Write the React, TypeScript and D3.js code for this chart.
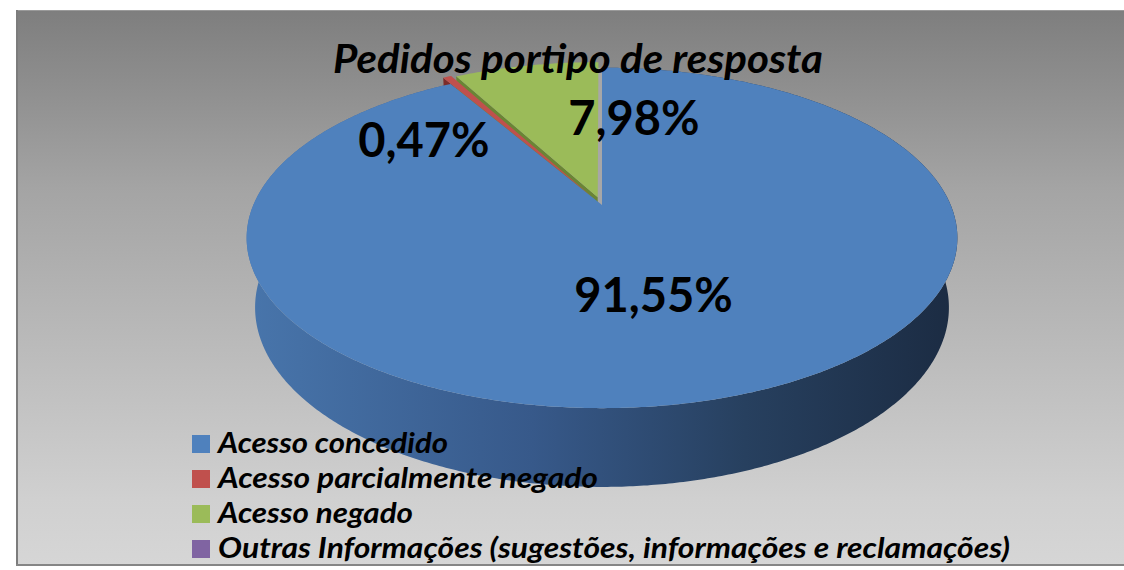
import React from 'react';
import * as d3 from 'd3';

// chart data
const title = 'Pedidos portipo de resposta';
const categories = [
  'Acesso concedido',
  'Acesso parcialmente negado',
  'Acesso negado',
  'Outras Informações (sugestões, informações e reclamações)'
];
const values = [91.55, 0.47, 7.98, 0];
const valueLabels = ['91,55%', '0,47%', '7,98%', ''];
const topColors = ['#4f81bd', '#c0504d', '#9bbb59', '#8064a2'];
const wallColors = ['#a7a7a7', '#7d2c2a', '#6a8535', '#5b4776'];
const explode = [0, 0.06, 0.05, 0];
// pixel nudges for the data labels (Excel "best fit" placement)
const labelNudge = [[1, 4], [-90, 9], [75, -7], [0, 0]];
// legend text widths as measured on the reference
const legendWidths = [230, 380, 195, 792];

const W = 1124;
const H = 570;

// simple perspective camera for the 3D pie
const cx = 602;
const cy = 205;
const sinE = 0.47;
const cosE = Math.sqrt(1 - sinE * sinE);
const D = 4.566;
const K = 1592;
const depthH = 0.228;

const project = (x: number, y: number, z: number): [number, number] => {
  const yv = y * cosE + z * sinE;
  const dep = D + z * cosE - y * sinE;
  return [cx + (K * x) / dep, cy - (K * yv) / dep];
};

const rim = (a0: number, a1: number, y: number, ex: number, ez: number) => {
  const n = Math.max(2, Math.ceil(Math.abs(a1 - a0) / (Math.PI / 360)));
  const pts: [number, number][] = [];
  for (let i = 0; i <= n; i++) {
    const a = a0 + ((a1 - a0) * i) / n;
    pts.push(project(Math.sin(a) + ex, y, Math.cos(a) + ez));
  }
  return pts;
};

const line = d3.line<[number, number]>();

const App: React.FC = () => {
  const arcs = d3.pie<number>().sort(null).value(d => d)(values);

  const slices = arcs.map((a, i) => {
    const mid = (a.startAngle + a.endAngle) / 2;
    const ex = Math.sin(mid) * explode[i];
    const ez = Math.cos(mid) * explode[i];
    return { ...a, i, mid, ex, ez };
  }).filter(s => s.value > 0);

  // legend rows
  const legendY = d3.scalePoint<string>()
    .domain(categories)
    .range([444, 549]);

  const grad = d3.scaleLinear<string>()
    .domain([0, 0.4, 0.7, 1])
    .range(['#4875ab', '#37598a', '#27405f', '#1b2b42']);

  const font = "Lato, 'Open Sans', sans-serif";

  return (
    <div style={{ position: 'absolute', left: 0, top: 0 }}>
      <svg width={W} height={H} style={{ display: 'block' }}>
        <defs>
          <linearGradient id="bg" x1="0" y1="0" x2="0" y2="1">
            <stop offset="0" stopColor="#7e7e7e" />
            <stop offset="0.32" stopColor="#a4a4a4" />
            <stop offset="0.88" stopColor="#d0d0d0" />
            <stop offset="1" stopColor="#d6d6d6" />
          </linearGradient>
          <linearGradient id="side" gradientUnits="userSpaceOnUse" x1="248" y1="0" x2="958" y2="0">
            {[0, 0.4, 0.7, 1].map(t => (
              <stop key={t} offset={t} stopColor={grad(t)} />
            ))}
          </linearGradient>
        </defs>
        <rect x={0} y={0} width={W} height={H} fill="#ffffff" />
        <rect x={16} y={10} width={W - 16} height={556} fill="url(#bg)" />
        <line x1={16} y1={10.5} x2={W} y2={10.5} stroke="#9a9a9a" strokeWidth={1} />
        <line x1={17} y1={10} x2={17} y2={566} stroke="#7c7c7c" strokeWidth={2} />
        <line x1={16} y1={565} x2={W} y2={565} stroke="#858585" strokeWidth={2} />

        {/* outer side of the pie (only the un-exploded slice shows it) */}
        {slices.filter(s => explode[s.i] === 0).map(s => {
          const top = rim(s.startAngle, s.endAngle, 0, s.ex, s.ez);
          const bot = rim(s.startAngle, s.endAngle, -depthH, s.ex, s.ez).reverse();
          return <path key={'side' + s.i} d={line([...top, ...bot]) + 'Z'} fill="url(#side)" />;
        })}

        {/* radial walls */}
        {slices.map(s => {
          const c0 = project(s.ex, 0, s.ez);
          const r0 = project(Math.sin(s.startAngle) + s.ex, 0, Math.cos(s.startAngle) + s.ez);
          let pts: [number, number][];
          if (explode[s.i] === 0) {
            // wall seen almost edge-on: give it a little thickness
            pts = [c0, r0, [r0[0] - 6, r0[1]], [c0[0] - 6, c0[1] - 2], [c0[0], c0[1] + 3]];
          } else {
            const c1 = project(s.ex, -depthH, s.ez);
            const r1 = project(Math.sin(s.startAngle) + s.ex, -depthH, Math.cos(s.startAngle) + s.ez);
            pts = [c0, r0, r1, c1];
          }
          return <path key={'wall' + s.i} d={line(pts) + 'Z'} fill={wallColors[s.i]} />;
        })}

        {/* top faces */}
        {slices.map(s => {
          const pts = [project(s.ex, 0, s.ez), ...rim(s.startAngle, s.endAngle, 0, s.ex, s.ez)];
          return <path key={'top' + s.i} d={line(pts) + 'Z'} fill={topColors[s.i]} />;
        })}

        {/* data labels */}
        {slices.map(s => {
          const r = 0.5;
          const [lx, ly] = project(Math.sin(s.mid) * r + s.ex, 0, Math.cos(s.mid) * r + s.ez);
          return (
            <text
              key={'lab' + s.i}
              x={lx + labelNudge[s.i][0]}
              y={ly + 16 + labelNudge[s.i][1]}
              textAnchor="middle"
              fontFamily={font}
              fontWeight="bold"
              fontSize={47}
              fill="#000"
            >
              {valueLabels[s.i]}
            </text>
          );
        })}

        {/* title */}
        <text
          x={578}
          y={73}
          textAnchor="middle"
          fontFamily={font}
          fontWeight="bold"
          fontStyle="italic"
          fontSize={40}
          textLength={490}
          lengthAdjust="spacingAndGlyphs"
          fill="#000"
        >
          {title}
        </text>

        {/* legend */}
        {categories.map((c, i) => {
          const y = legendY(c) as number;
          return (
            <g key={c}>
              <rect x={192} y={y - 9} width={18} height={18} fill={topColors[i]} />
              <text
                x={218}
                y={y + 9}
                fontFamily={font}
                fontWeight="bold"
                fontStyle="italic"
                fontSize={29}
                textLength={legendWidths[i]}
                lengthAdjust="spacingAndGlyphs"
                fill="#000"
              >
                {c}
              </text>
            </g>
          );
        })}
      </svg>
    </div>
  );
};

export default App;
